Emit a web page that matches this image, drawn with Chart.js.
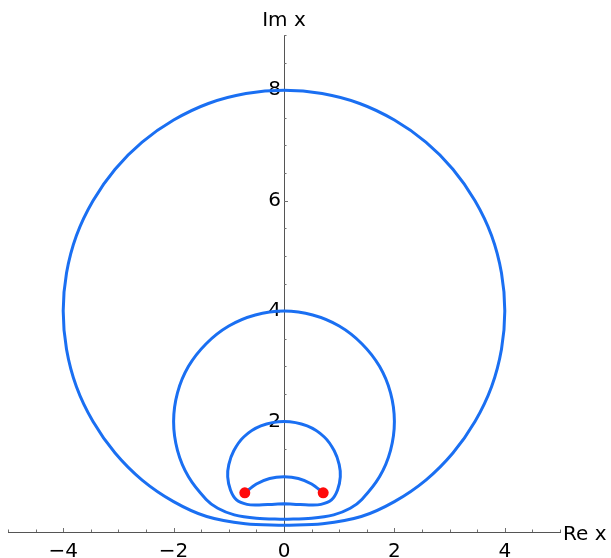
<!DOCTYPE html>
<html>
<head>
<meta charset="utf-8">
<script src="https://cdn.jsdelivr.net/npm/chart.js@4.4.1/dist/chart.umd.min.js"></script>
<style>
  html, body { margin: 0; padding: 0; background: #ffffff; }
  #wrap { width: 611px; height: 558px; }
</style>
</head>
<body>
<div id="wrap"><canvas id="plot" width="611" height="558"></canvas></div>
<script>
// Traced curves in the complex x-plane: [Re x, Im x]
const outerLoop = [
  [0, 0.12], [0.7, 0.15], [1.4, 0.28], [2.0, 0.55], [2.57, 0.94], [3.06, 1.43], [3.46, 2.0],
  [3.76, 2.63], [3.94, 3.31], [4.0, 4.0], [3.94, 4.69], [3.76, 5.37], [3.46, 6.0], [3.06, 6.57],
  [2.57, 7.06], [2.0, 7.46], [1.37, 7.76], [0.69, 7.94], [0, 8.0],
  [-0.69, 7.94], [-1.37, 7.76], [-2.0, 7.46], [-2.57, 7.06], [-3.06, 6.57], [-3.46, 6.0],
  [-3.76, 5.37], [-3.94, 4.69], [-4.0, 4.0], [-3.94, 3.31], [-3.76, 2.63], [-3.46, 2.0],
  [-3.06, 1.43], [-2.57, 0.94], [-2.0, 0.55], [-1.4, 0.28], [-0.7, 0.15], [0, 0.12]
];

const middleLoop = [
  [0, 0.23], [0.5, 0.25], [0.9, 0.31], [1.2, 0.43], [1.41, 0.59], [1.73, 1.0], [1.93, 1.48],
  [2.0, 2.0], [1.93, 2.52], [1.73, 3.0], [1.41, 3.41], [1.0, 3.73], [0.52, 3.93], [0, 4.0],
  [-0.52, 3.93], [-1.0, 3.73], [-1.41, 3.41], [-1.73, 3.0], [-1.93, 2.52], [-2.0, 2.0],
  [-1.93, 1.48], [-1.73, 1.0], [-1.41, 0.59], [-1.2, 0.43], [-0.9, 0.31], [-0.5, 0.25], [0, 0.23]
];

const innerLoop = [
  [0, 0.51], [0.22, 0.5], [0.45, 0.49], [0.67, 0.5], [0.86, 0.58], [0.97, 0.76], [1.02, 1.0],
  [1.0, 1.22], [0.91, 1.47], [0.73, 1.72], [0.42, 1.92], [0, 2.0],
  [-0.42, 1.92], [-0.73, 1.72], [-0.91, 1.47], [-1.0, 1.22], [-1.02, 1.0], [-0.97, 0.76],
  [-0.86, 0.58], [-0.67, 0.5], [-0.45, 0.49], [-0.22, 0.5], [0, 0.51]
];

const unitArc = [
  [-0.71, 0.71], [-0.5, 0.87], [-0.26, 0.97], [0, 1.0], [0.26, 0.97], [0.5, 0.87], [0.71, 0.71]
];

const branchPoints = [[-0.71, 0.71], [0.71, 0.71]];

const xTickValues = [-4, -2, 0, 2, 4];
const yTickValues = [2, 4, 6, 8];
const xAxisTitle = 'Re x';
const yAxisTitle = 'Im x';

const curveColor = '#1a6ff2';
const dotColor = '#ff0a0a';
const axisColor = '#555555';
const tickColor = '#707070';
const fontFamily = '"DejaVu Sans", "Liberation Sans", sans-serif';

const toXY = pts => pts.map(([x, y]) => ({ x, y }));
const curveStyle = {
  showLine: true,
  borderColor: curveColor,
  borderWidth: 3,
  pointRadius: 0,
  pointHoverRadius: 0,
  tension: 0.33,
  fill: false,
  borderCapStyle: 'round',
  borderJoinStyle: 'round'
};

const minus = v => (v < 0 ? '\u2212' + Math.abs(v) : String(v));

// Minor/major tick marks drawn inward from the axes, plus the axis titles
const axisDecor = {
  id: 'axisDecor',
  beforeDatasetsDraw(chart) {
    const { ctx, scales: { x, y } } = chart;
    const x0 = x.getPixelForValue(0);
    const y0 = y.getPixelForValue(0);
    ctx.save();
    ctx.strokeStyle = tickColor;
    ctx.lineWidth = 1;
    ctx.beginPath();
    for (let v = x.min; v <= x.max + 1e-9; v += 0.5) {
      if (Math.abs(v) < 1e-9) continue;
      const px = Math.round(x.getPixelForValue(v)) + 0.5;
      const len = Math.abs(v % 2) < 1e-9 ? 4 : 2.5;
      ctx.moveTo(px, y0);
      ctx.lineTo(px, y0 - len);
    }
    for (let v = y.min + 0.5; v <= y.max + 1e-9; v += 0.5) {
      const py = Math.round(y.getPixelForValue(v)) + 0.5;
      const len = Math.abs(v % 2) < 1e-9 ? 4 : 2.5;
      ctx.moveTo(x0, py);
      ctx.lineTo(x0 + len, py);
    }
    ctx.stroke();
    ctx.restore();
  },
  afterDraw(chart) {
    const { ctx, scales: { x, y } } = chart;
    ctx.save();
    ctx.fillStyle = '#000000';
    ctx.font = '20px ' + fontFamily;
    ctx.textBaseline = 'alphabetic';
    ctx.textAlign = 'left';
    ctx.fillText(xAxisTitle, x.getPixelForValue(x.max) + 3, y.getPixelForValue(0) + 8);
    ctx.textAlign = 'center';
    ctx.fillText(yAxisTitle, x.getPixelForValue(0), y.getPixelForValue(y.max) - 9);
    ctx.restore();
  }
};

new Chart(document.getElementById('plot'), {
  type: 'scatter',
  data: {
    datasets: [
      {
        label: 'branch points',
        data: toXY(branchPoints),
        showLine: false,
        pointRadius: 5.5,
        pointHoverRadius: 5.5,
        pointBackgroundColor: dotColor,
        pointBorderWidth: 0
      },
      { label: 'unit arc', data: toXY(unitArc), ...curveStyle },
      { label: 'inner loop', data: toXY(innerLoop), ...curveStyle },
      { label: 'middle loop', data: toXY(middleLoop), ...curveStyle },
      { label: 'outer loop', data: toXY(outerLoop), ...curveStyle }
    ]
  },
  options: {
    responsive: false,
    animation: false,
    devicePixelRatio: 1,
    layout: { padding: { left: 8, right: 51, top: 35, bottom: 26 } },
    plugins: { legend: { display: false }, tooltip: { enabled: false } },
    events: [],
    scales: {
      x: {
        type: 'linear',
        min: -5,
        max: 5,
        position: { y: 0 },
        afterBuildTicks: s => { s.ticks = xTickValues.map(value => ({ value })); },
        grid: { display: false },
        border: { display: true, color: axisColor, width: 1 },
        ticks: {
          padding: 0,
          color: '#000000',
          font: { family: fontFamily, size: 20 },
          maxRotation: 0,
          autoSkip: false,
          callback: v => minus(v)
        }
      },
      y: {
        type: 'linear',
        min: 0,
        max: 9,
        position: 'center',
        afterBuildTicks: s => { s.ticks = yTickValues.map(value => ({ value })); },
        grid: { display: false, drawTicks: false, tickLength: 0 },
        border: { display: true, color: axisColor, width: 1 },
        ticks: {
          padding: 3,
          color: '#000000',
          font: { family: fontFamily, size: 20 },
          autoSkip: false,
          callback: v => minus(v)
        }
      }
    }
  },
  plugins: [axisDecor]
});
</script>
</body>
</html>
